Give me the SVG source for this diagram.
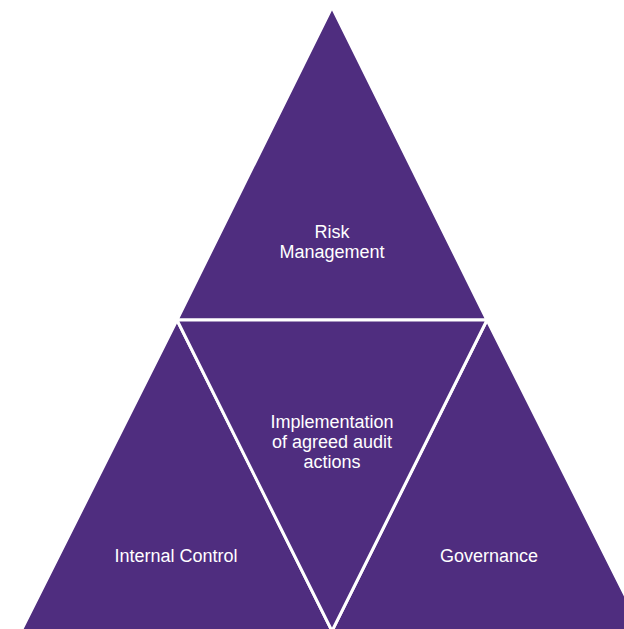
<svg xmlns="http://www.w3.org/2000/svg" width="624" height="629" viewBox="0 0 624 629">
<style>
.tri{fill:#4F2D7F;stroke:#FFFFFF;stroke-width:3;stroke-linejoin:miter}
.lbl{font-family:"Liberation Sans",Arial,sans-serif;font-size:18px;fill:#FFFFFF;text-anchor:middle}
</style>
<rect width="624" height="629" fill="#FFFFFF"/>
<g id="risk-management">
<polygon class="tri" points="332,7 177,320 487,320"/>
<text class="lbl" x="332" y="238">Risk</text>
<text class="lbl" x="332" y="258">Management</text>
</g>
<g id="internal-control">
<polygon class="tri" points="177,320 21,631 332,631"/>
<text class="lbl" x="176" y="562">Internal Control</text>
</g>
<g id="governance">
<polygon class="tri" points="487,320 332,631 643,631"/>
<text class="lbl" x="489" y="562">Governance</text>
</g>
<g id="implementation">
<polygon class="tri" points="177,320 487,320 332,631"/>
<text class="lbl" x="332" y="428">Implementation</text>
<text class="lbl" x="332" y="448">of agreed audit</text>
<text class="lbl" x="332" y="468">actions</text>
</g>
<g id="connectors"></g>
</svg>
